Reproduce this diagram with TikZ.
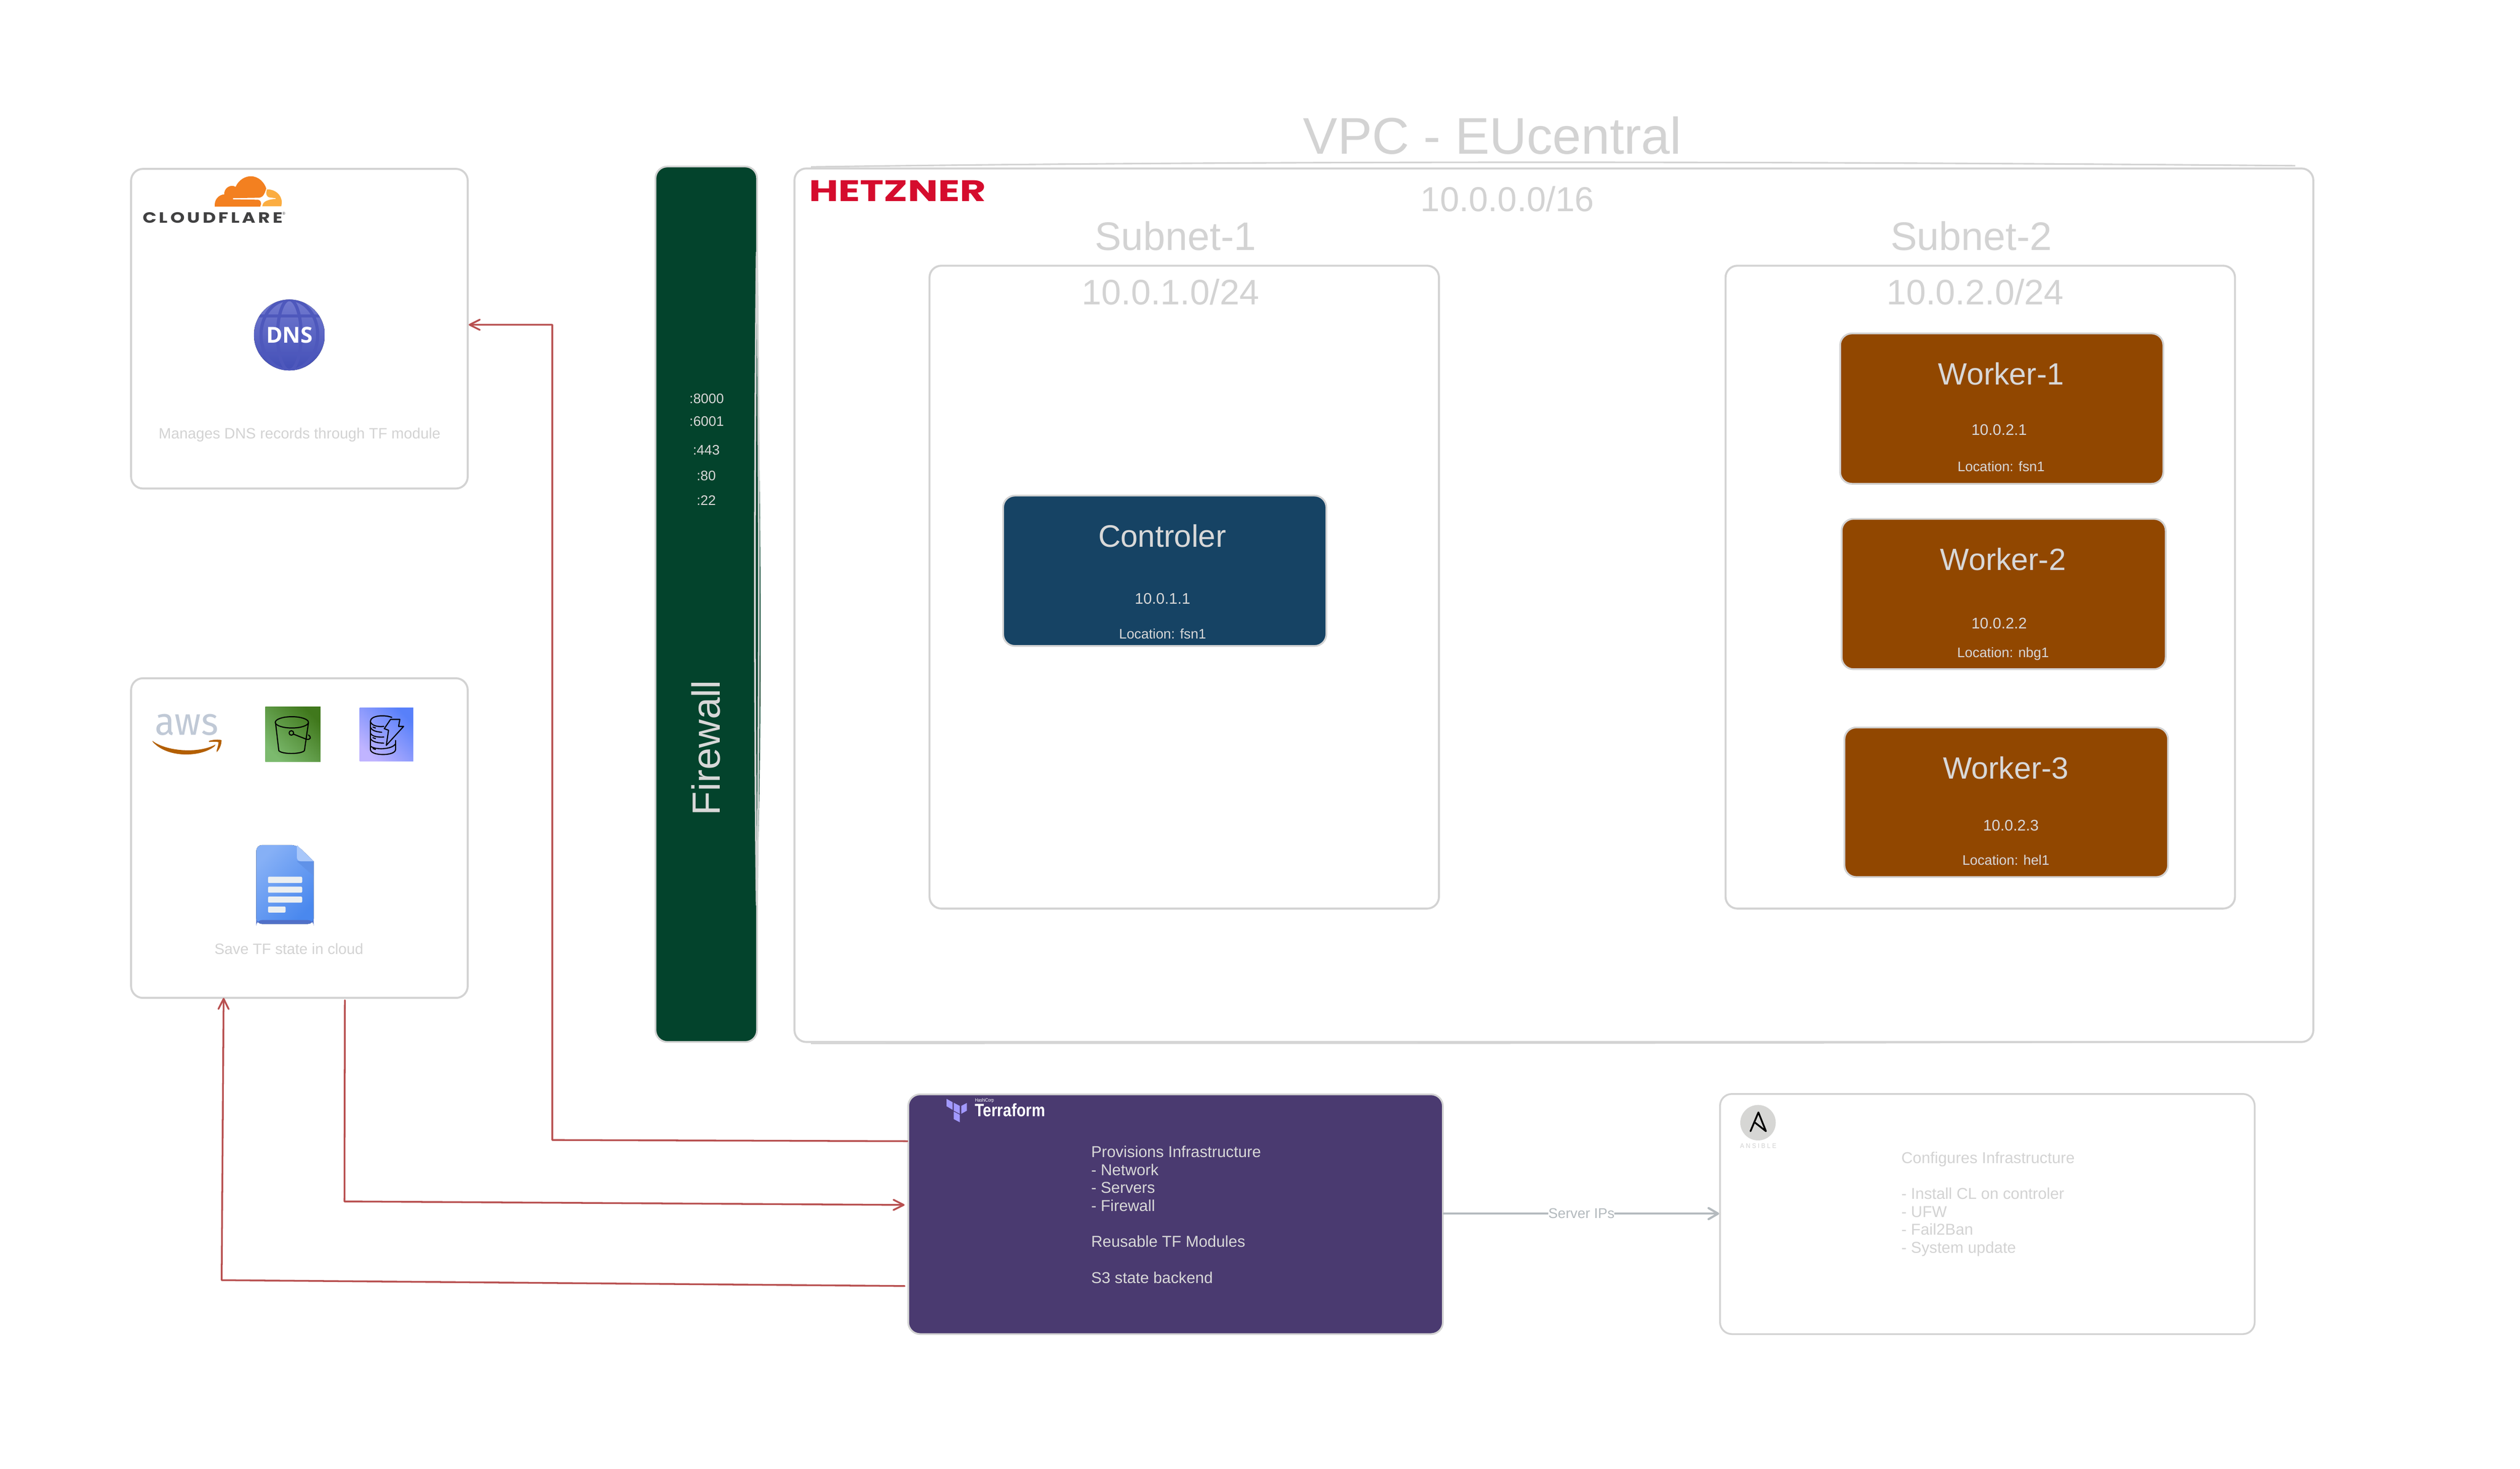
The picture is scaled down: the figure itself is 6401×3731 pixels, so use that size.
\documentclass[tikz,border=0pt]{standalone}
\usepackage{fontspec}
\usepackage{graphicx}
\setmainfont{Liberation Sans}
\newfontfamily\logofont{Poppins}
\newfontfamily\cffont[LetterSpace=14]{Poppins}
\newfontfamily\awsfont{Fira Sans}
\newfontfamily\dnsfont{Open Sans}
\usetikzlibrary{fit,arrows.meta,calc}
\newdimen\pxu \pxu=0.1mm
\newcommand\fpx[1]{\fontsize{\the\dimexpr#1\pxu\relax}{\the\dimexpr#1\pxu*12/10\relax}\selectfont}
\newcommand\fpxl[2]{\fontsize{\the\dimexpr#1\pxu\relax}{\the\dimexpr#2\pxu\relax}\selectfont}
\definecolor{bord}{HTML}{D3D3D3}
\definecolor{ltxt}{HTML}{D3D3D3}
\definecolor{ftxt}{HTML}{D8D8D8}
\definecolor{fwgreen}{HTML}{03432C}
\definecolor{tfpurple}{HTML}{4A3A70}
\definecolor{ctblue}{HTML}{164364}
\definecolor{wkbrown}{HTML}{914700}
\definecolor{redl}{HTML}{B85050}
\definecolor{grayl}{HTML}{B4BABE}
\definecolor{hzred}{HTML}{D50C2D}
\definecolor{cfdark}{HTML}{404041}
\definecolor{cforange}{HTML}{F38020}
\definecolor{cflight}{HTML}{FBAD41}
\tikzset{
  x=0.1mm,y=-0.1mm,
  box/.style={draw=bord,line width=0.5mm,rounded corners=3mm,inner sep=0pt,fill=white},
  darkbox/.style={draw=bord,line width=0.45mm,rounded corners=3mm,inner sep=0pt},
  txt/.style={inner sep=0pt,anchor=base,text=ltxt},
  dtxt/.style={inner sep=0pt,anchor=base,text=ftxt},
  redlink/.style={draw=redl,line width=0.45mm,line join=round,line cap=round,-{Straight Barb[length=2.6mm,width=2.6mm,round]}},
  graylink/.style={draw=grayl,line width=0.55mm,line cap=round,-{Straight Barb[length=2.4mm,width=2.8mm,round]}},
  bk/.style={draw=black,line width=0.28mm,line cap=round,line join=round},
}
\begin{document}
\begin{tikzpicture}
\useasboundingbox (0,0) rectangle (6401,3731);
\fill[white] (0,0) rectangle (6401,3731);

% main containers
\node[box,fit={(2018,428)(5876,2647)}] (vpc) {};
\draw[bord,line width=0.4mm] (2060,424) .. controls (3000,411) and (4200,407) .. (5830,421);
\draw[bord,line width=0.3mm] (2060,2651) .. controls (3000,2650) and (4200,2652) .. (5500,2647);
\node[box,fit={(2361,675)(3655,2308)}] (sub1) {};
\node[box,fit={(4383,675)(5677,2308)}] (sub2) {};
\node[box,fit={(333,429)(1188,1241)}] (cf) {};
\node[box,fit={(333,1723)(1188,2535)}] (aws) {};
\node[darkbox,fill=fwgreen,fit={(1665,423)(1923,2647)}] (fw) {};
% hand-drawn double stroke on the firewall's right edge
\fill[fwgreen] (1918,640) .. controls (1934,1200) and (1938,1900) .. (1921,2300) -- cycle;
\draw[bord,line width=0.45mm] (1922,640) .. controls (1916,1200) and (1916,1800) .. (1922,2300);
\draw[bord,line width=0.45mm] (1923,640) .. controls (1929,1200) and (1929,1800) .. (1923,2300);
\node[darkbox,fill=tfpurple,fit={(2307,2780)(3665,3389)}] (tf) {};
\node[box,line width=0.45mm,fit={(4369,2779)(5727,3389)}] (ans) {};
\node[darkbox,fill=ctblue,fit={(2548,1259)(3369,1641)}] (ctrl) {};
\node[darkbox,fill=wkbrown,fit={(4674,847)(5495,1229)}] (w1) {};
\node[darkbox,fill=wkbrown,fit={(4678,1318)(5501,1700)}] (w2) {};
\node[darkbox,fill=wkbrown,fit={(4685,1848)(5507,2228)}] (w3) {};

% titles
\node[txt,font=\fpx{131}] (tvpc) at (3791,391) {VPC - EUcentral};
\node[txt,font=\fpx{88}] (tvpcip) at (3829,537) {10.0.0.0/16};
\node[txt,font=\fpx{101}] (ts1) at (2986,636) {Subnet-1};
\node[txt,font=\fpx{90}] (ts1ip) at (2973,774) {10.0.1.0/24};
\node[txt,font=\fpx{101}] (ts2) at (5007,636) {Subnet-2};
\node[txt,font=\fpx{90}] (ts2ip) at (5017,774) {10.0.2.0/24};

% hosts
\node[dtxt,font=\fpx{79}] (cn) at (2952,1389) {Controler};
\node[dtxt,font=\fpx{39}] (ci) at (2953,1534) {10.0.1.1};
\node[dtxt,font=\fpx{35}] (cl) at (2953,1623) {Location: fsn1};
\node[dtxt,font=\fpx{78}] (w1n) at (5083,977) {Worker-1};
\node[dtxt,font=\fpx{39}] (w1i) at (5078,1105) {10.0.2.1};
\node[dtxt,font=\fpx{35}] (w1l) at (5083,1197) {Location: fsn1};
\node[dtxt,font=\fpx{78}] (w2n) at (5088,1449) {Worker-2};
\node[dtxt,font=\fpx{39}] (w2i) at (5078,1597) {10.0.2.2};
\node[dtxt,font=\fpx{35}] (w2l) at (5088,1670) {Location: nbg1};
\node[dtxt,font=\fpx{78}] (w3n) at (5095,1978) {Worker-3};
\node[dtxt,font=\fpx{39}] (w3i) at (5108,2110) {10.0.2.3};
\node[dtxt,font=\fpx{35}] (w3l) at (5095,2198) {Location: hel1};

% firewall
\node[dtxt,font=\fpx{35}] (p1) at (1795,1025) {:8000};
\node[dtxt,font=\fpx{35}] (p2) at (1795,1082) {:6001};
\node[dtxt,font=\fpx{35}] (p3) at (1794,1155) {:443};
\node[dtxt,font=\fpx{35}] (p4) at (1794,1221) {:80};
\node[dtxt,font=\fpx{35}] (p5) at (1794,1283) {:22};
\node[inner sep=0pt,text=ftxt,font=\fpx{100},rotate=90] (fwt) at (1793,1900) {Firewall};

% Hetzner
\node[inner sep=0pt,anchor=north west,text=hzred] (hz) at (2054,458) {\resizebox{450\pxu}{53\pxu}{\logofont\bfseries HETZNER}};

% Cloudflare logo
\begin{scope}[shift={(300,380)},xscale=0.6378,yscale=0.574]
\fill[cforange] (385,252) .. controls (382,222) and (400,200) .. (423,198)
  .. controls (420,175) and (445,150) .. (468,165)
  .. controls (482,130) and (510,118) .. (528,118)
  .. controls (560,118) and (582,145) .. (590,172)
  .. controls (585,190) and (580,210) .. (562,213)
  -- (458,215) -- (457,220) -- (558,222)
  .. controls (570,224) and (572,240) .. (566,252) -- cycle;
\fill[cflight] (593,176) .. controls (625,175) and (652,200) .. (652,235) -- (650,251) -- (574,251)
  .. controls (576,235) and (585,222) .. (628,218) -- (627,215) -- (605,212)
  .. controls (590,210) and (587,195) .. (593,176) -- cycle;
\end{scope}
\node[inner sep=0pt,anchor=north west,text=cfdark] (cft) at (362,539) {\resizebox{355\pxu}{27\pxu}{\cffont\bfseries CLOUDFLARE}};
\node[inner sep=0pt,anchor=base,text=cfdark,font=\fpx{10}] (cfr) at (721,546) {®};

% DNS globe
\begin{scope}
\clip (735,851) circle[radius=90];
\fill[top color={rgb,255:red,114;green,122;blue,208},bottom color={rgb,255:red,66;green,78;blue,182}] (645,761) rectangle (825,941);
\begin{scope}[draw={rgb,255:red,78;green,88;blue,188},line width=0.8mm]
\draw (735,851) ellipse[x radius=30,y radius=90];
\draw (735,851) ellipse[x radius=72,y radius=90];
\draw (640,803) -- (830,803);
\draw (640,897) -- (830,897);
\end{scope}
\end{scope}
\node[inner sep=0pt,text=white,font=\fpx{56}\dnsfont\bfseries] (dns) at (735,851) {DNS};
\node[txt,font=\fpx{38}] (cftxt) at (761,1114) {Manages DNS records through TF module};

% AWS logo
\node[inner sep=0pt,anchor=base,text={rgb,255:red,192;green,201;blue,214}] (awsn) at (474,1867) {\resizebox{161\pxu}{53\pxu}{\awsfont aws}};
\begin{scope}[shift={(300,1680)},xscale=0.6378,yscale=0.574]
\fill[fill={rgb,255:red,179;green,95;blue,0}] (137,352) .. controls (190,398) and (320,410) .. (388,368)
  -- (384,376) .. controls (330,425) and (195,430) .. (137,355) -- cycle;
\fill[fill={rgb,255:red,179;green,95;blue,0}] (362,352) .. controls (380,346) and (400,345) .. (412,349)
  .. controls (412,370) and (403,392) .. (392,402) .. controls (392,390) and (400,372) .. (400,358)
  .. controls (390,354) and (375,356) .. (362,357) -- cycle;
% S3
\shade[shading=axis,top color={rgb,255:red,64;green,120;blue,28},bottom color={rgb,255:red,124;green,186;blue,110},shading angle=-45] (586,201) rectangle (806,445);
\draw[bk] (692,270) ellipse[x radius=66,y radius=25];
\draw[bk] (627,272) -- (640,395) .. controls (650,412) and (730,412) .. (742,395) -- (758,272);
\draw[bk] (690,317) circle[x radius=9,y radius=10];
\draw[bk] (698,322) -- (750,345) .. controls (768,348) and (770,335) .. (758,326);
% DynamoDB
\shade[shading=axis,top color={rgb,255:red,88;green,128;blue,250},bottom color={rgb,255:red,192;green,180;blue,255},shading angle=-45] (962,205) rectangle (1176,442);
\draw[bk] (1090,248) .. controls (1060,235) and (1005,240) .. (1005,265) -- (1005,390)
  .. controls (1005,420) and (1105,420) .. (1105,390) -- (1105,350);
\draw[bk] (1005,268) .. controls (1012,288) and (1040,290) .. (1058,288);
\draw[bk] (1005,292) .. controls (1012,310) and (1035,312) .. (1050,314);
\draw[bk] (1005,318) .. controls (1012,335) and (1040,336) .. (1058,335);
\draw[bk] (1005,342) .. controls (1012,358) and (1040,362) .. (1058,362);
\draw[bk] (1005,375) .. controls (1020,392) and (1090,392) .. (1105,365);
\draw[bk] (1085,257) -- (1122,257) -- (1117,288) -- (1137,288) -- (1068,372) -- (1077,305) -- (1060,298) -- cycle;
\draw[bk] (1015,291) -- (1025,295);
\draw[bk] (1015,338) -- (1025,342);
\draw[bk] (1015,386) -- (1025,390);
% Doc icon
\fill[shade,shading=axis,top color={rgb,255:red,134;green,176;blue,246},bottom color={rgb,255:red,74;green,136;blue,238},shading angle=45,rounded corners=1.5mm] (550,1162) -- (550,813) -- (712,813) [sharp corners] -- (779,885) [rounded corners=1.5mm] -- (779,1162) -- cycle;
\fill[rounded corners=1.5mm,fill={rgb,255:red,80;green,112;blue,200}] (550,1145) -- (779,1145) -- (779,1162) -- (550,1162) -- cycle;
\fill[fill={rgb,255:red,96;green,146;blue,232}] (712,885) -- (779,885) -- (779,950) -- cycle;
\fill[fill={rgb,255:red,168;green,199;blue,250}] (712,813) -- (779,885) -- (730,885) .. controls (718,885) and (712,878) .. (712,868) -- cycle;
\fill[rounded corners=0.3mm,fill={rgb,255:red,236;green,239;blue,241}] (597,953) rectangle (733,981);
\fill[rounded corners=0.3mm,fill={rgb,255:red,236;green,239;blue,241}] (597,997) rectangle (733,1024);
\fill[rounded corners=0.3mm,fill={rgb,255:red,236;green,239;blue,241}] (597,1041) rectangle (733,1068);
\fill[rounded corners=0.3mm,fill={rgb,255:red,236;green,239;blue,241}] (597,1085) rectangle (667,1112);
\end{scope}
\node[txt,font=\fpx{38}] (awstxt) at (734,2424) {Save TF state in cloud};

% Terraform logo
\begin{scope}[shift={(2280,2750)},xscale=0.9566,yscale=0.4464,fill={rgb,255:red,162;green,153;blue,255}]
\fill (130,93) -- (146,112) -- (146,155) -- (130,135) -- cycle;
\fill (149,115) -- (165,133) -- (165,178) -- (149,160) -- cycle;
\fill (169,133) -- (184,116) -- (184,160) -- (169,178) -- cycle;
\fill (149,165) -- (165,183) -- (165,226) -- (149,208) -- cycle;
\end{scope}
\node[inner sep=0pt,anchor=base west,text=white] (tfh) at (2476,2799) {\resizebox{48\pxu}{9\pxu}{HashiCorp}};
\node[inner sep=0pt,anchor=base west,text=white] (tfn) at (2476,2836) {\resizebox{178\pxu}{33\pxu}{\bfseries Terraform}};
\node[inner sep=0pt,anchor=north west,align=left,text=ftxt,font=\fpxl{40}{45.7}] (tft) at (2771,2910) {Provisions Infrastructure\\- Network\\- Servers\\- Firewall\\~\\Reusable TF Modules\\~\\S3 state backend};

% Ansible logo
\fill[fill={rgb,255:red,214;green,214;blue,212}] (4465.5,2852) circle[radius=45];
\begin{scope}[shift={(4300,2750)},xscale=0.9566,yscale=0.4464]
\draw[black,line width=0.45mm,line join=round,line cap=round] (153,277) -- (174,170) -- (194,277) -- (165,228);
\end{scope}
\node[inner sep=0pt,anchor=base,text=ltxt] (ansn) at (4466,2917) {\resizebox{92\pxu}{12\pxu}{A N S I B L E}};
\node[inner sep=0pt,anchor=north west,align=left,text=ltxt,font=\fpxl{40}{45.7}] (anst) at (4829,2925) {Configures Infrastructure\\~\\- Install CL on controler\\- UFW\\- Fail2Ban\\- System update};

% connectors
\coordinate (bend1) at (1403,2896);
\coordinate (bend1b) at (1403,825);
\coordinate (bend2a) at (875,3052);
\coordinate (bend3) at (563,3252);
\draw[redlink] (tf.west |- 0,2899) -- (bend1) -- (bend1b) -- (cf.east |- 0,825);
\draw[redlink,shorten >=0.7mm] (876,2541) -- (bend2a) -- (tf.west |- 0,3061);
\draw[redlink,shorten <=0.7mm] (tf.west |- 0,3267) -- (bend3) -- (568,2535);
\draw[graylink] (tf.east |- 0,3083) -- node[fill=white,inner sep=0pt,text=grayl,font=\fpx{36},pos=0.5] (ips) {Server IPs} (ans.west |- 0,3083);
\end{tikzpicture}
\end{document}
